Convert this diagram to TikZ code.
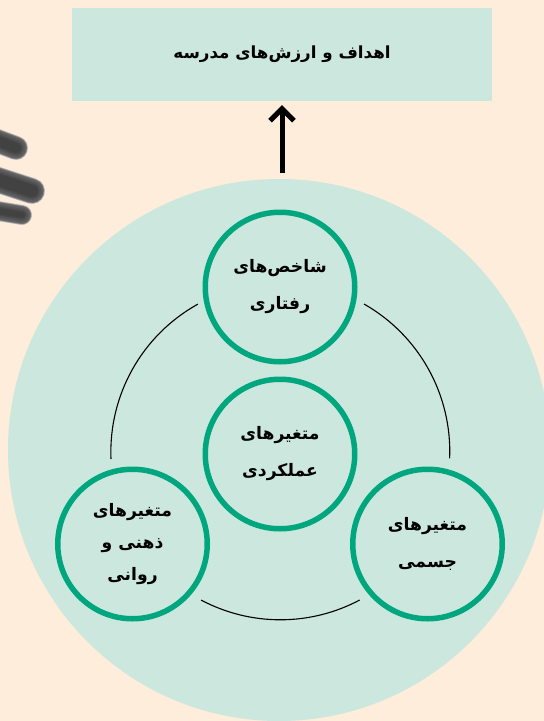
\documentclass[tikz,border=0pt]{standalone}
\usepackage{fontspec}
\usetikzlibrary{arrows.meta}
\TeXXeTstate=1
\newfontfamily\arabicfont[Script=Arabic,BoldFont={DejaVu Sans Bold}]{DejaVu Sans}
\definecolor{pagebg}{HTML}{FEEDDB}
\definecolor{mint}{HTML}{CCE7DD}
\definecolor{ringgreen}{HTML}{00A67E}
\tikzset{
  ring/.style={circle,draw=ringgreen,line width=5.5pt,fill=mint,minimum size=149.5pt,inner sep=0pt,align=center,
    font=\arabicfont\bfseries\fontsize{17.2}{37}\selectfont},
  tightring/.style={ring,font=\arabicfont\bfseries\fontsize{17.2}{32}\selectfont},
  link/.style={line width=1.1pt,black},
  finger/.style={line cap=round}
}
\newcommand{\fa}[1]{\beginR #1\endR}
\begin{document}
\begin{tikzpicture}[x=1pt,y=-1pt]
\clip (0,0) rectangle (544,721);
\fill[pagebg] (0,0) rectangle (544,721);
% fingers
\foreach \w/\c in {0/black!22,-1/black!38,-2/black!52,-3/black!60,-5/black!64,-8/black!67,-11/black!71,-14/black!74}{
  \draw[finger,line width=24pt+\w pt,color=\c] (-8,139) -- (16,148);
  \draw[finger,line width=26pt+\w pt,color=\c] (-8,178) -- (32,191);
  \draw[finger,line width=20pt+\w pt,color=\c] (-8,210) -- (22,215);
}
\node[circle,fill=mint,minimum size=542pt,inner sep=0pt] (disc) at (279,450) {};
\node[fill=mint,minimum width=420pt,minimum height=93pt,inner sep=0pt,
  font=\arabicfont\bfseries\fontsize{16.7}{20}\selectfont] (goals) at (282,54.5) {\fa{اهداف و ارزش‌های مدرسه}};
\coordinate (arrowstart) at (282,173);
\draw[line width=5pt,black,-{Straight Barb[length=12pt,width=24pt]},shorten >=4pt] (arrowstart) -- (goals.south);
\coordinate (arcAa) at (111,459);
\coordinate (arcBa) at (364,304);
\coordinate (arcCa) at (201,600);
\draw[link] (arcAa) arc[start angle=177.6,end angle=241,radius=169];
\draw[link] (arcBa) arc[start angle=-60.4,end angle=2.4,radius=169.5];
\draw[link] (arcCa) arc[start angle=118,end angle=62,radius=169];
\node[ring] (behav) at (280,287) {\fa{شاخص‌های}\\\fa{رفتاری}};
\node[ring] (perf) at (280,454) {\fa{متغیرهای}\\\fa{عملکردی}};
\node[tightring] (mental) at (132.5,544) {\fa{متغیرهای}\\\fa{ذهنی و}\\\fa{روانی}};
\node[ring] (body) at (427.5,544) {\fa{متغیرهای}\\\fa{جسمی}};
\end{tikzpicture}
\end{document}
